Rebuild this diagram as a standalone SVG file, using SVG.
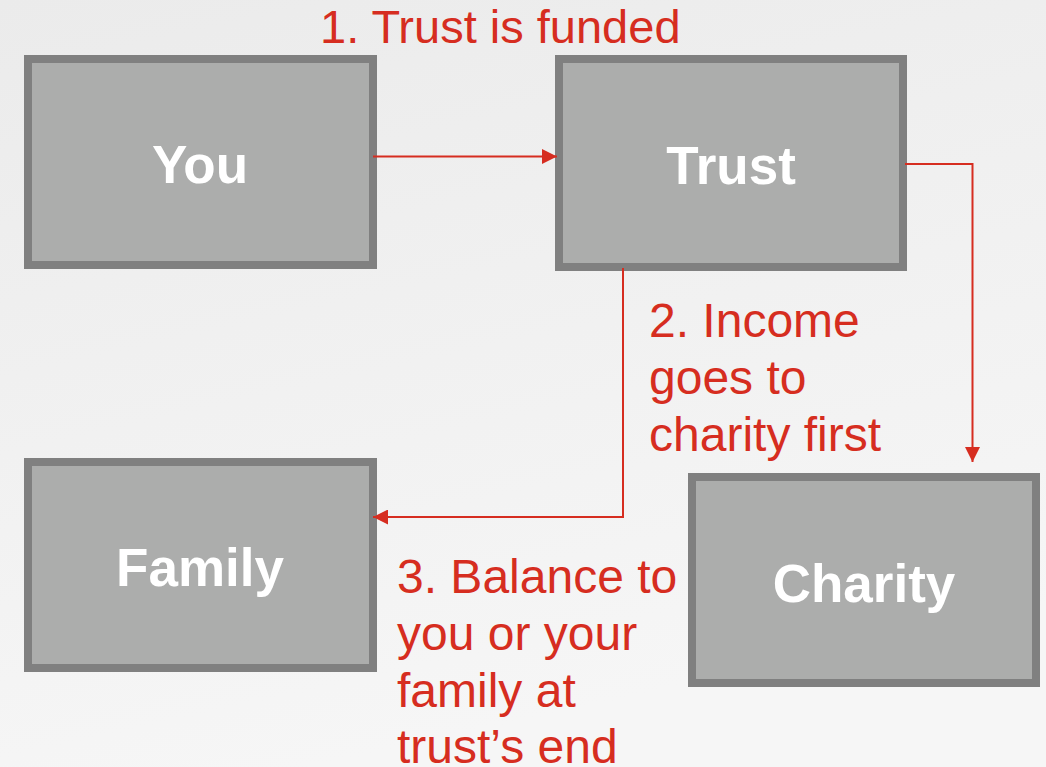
<svg xmlns="http://www.w3.org/2000/svg" width="1046" height="767" viewBox="0 0 1046 767">
<defs>
<linearGradient id="bg" x1="0" y1="0" x2="0.3" y2="1">
<stop offset="0" stop-color="#ebebeb"/>
<stop offset="1" stop-color="#f6f6f6"/>
</linearGradient>
<marker id="arr" markerWidth="15" markerHeight="15" refX="15" refY="7.5" orient="auto" markerUnits="userSpaceOnUse">
<path d="M0,0 L15,7.5 L0,15 Z" fill="#d62d20"/>
</marker>
<style>
.box{fill:#acadac;stroke:#808080;stroke-width:8}
.nt{font-family:"Liberation Sans",Arial,sans-serif;font-weight:bold;font-size:53px;fill:#ffffff;text-anchor:middle}
.lb{font-family:"Liberation Sans",Arial,sans-serif;font-size:48px;fill:#d62d20}
.cn{fill:none;stroke:#d62d20;stroke-width:2}
</style>
</defs>
<rect width="1046" height="767" fill="url(#bg)"/>
<g id="you"><rect class="box" x="28" y="59" width="345" height="206"/><text class="nt" x="200" y="183">You</text></g>
<g id="trust"><rect class="box" x="559" y="59" width="344" height="208"/><text class="nt" x="731" y="184">Trust</text></g>
<g id="family"><rect class="box" x="28" y="462" width="345" height="206"/><text class="nt" x="200" y="586">Family</text></g>
<g id="charity"><rect class="box" x="692" y="477" width="344" height="206"/><text class="nt" x="864" y="602">Charity</text></g>
<g id="connectors">
<path class="cn" d="M373,156.5 H557" marker-end="url(#arr)"/>
<path class="cn" d="M905,164 H972.5 V462" marker-end="url(#arr)"/>
<path class="cn" d="M623,268 V517 H373" marker-end="url(#arr)"/>
</g>
<g id="labels">
<text class="lb" x="320" y="43" style="font-size:47px">1. Trust is funded</text>
<text class="lb" x="649"><tspan x="649" y="337">2. Income</tspan><tspan x="649" y="394">goes to</tspan><tspan x="649" y="451">charity first</tspan></text>
<text class="lb" x="397"><tspan x="397" y="593">3. Balance to</tspan><tspan x="397" y="650">you or your</tspan><tspan x="397" y="707">family at</tspan><tspan x="397" y="763">trust’s end</tspan></text>
</g>
</svg>
